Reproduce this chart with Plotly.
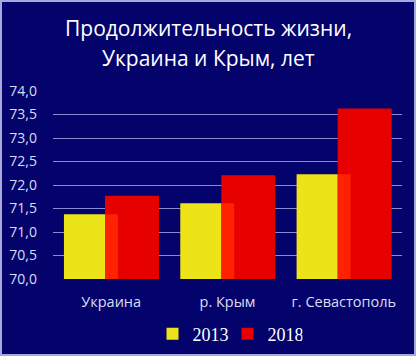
import plotly.graph_objects as go

categories = ["Украина", "р. Крым", "г. Севастополь"]
years = ["2013", "2018"]
values_2013 = [71.38, 71.61, 72.23]
values_2018 = [71.77, 72.21, 73.63]
y_ticks = [70.0, 70.5, 71.0, 71.5, 72.0, 72.5, 73.0, 73.5, 74.0]
title_lines = ["Продолжительность жизни,", "Украина и Крым, лет"]

BG = "#03036b"
YELLOW = "#ece318"
RED = "#e60000"
OVERLAP = "#ff2200"
TXT = "#dcdcf4"

W = 0.464
fig = go.Figure()
fig.add_trace(go.Bar(x=categories, y=values_2013, name=years[0], marker_color=YELLOW,
                     marker_line_width=0, width=W, offset=-0.406))
fig.add_trace(go.Bar(x=categories, y=values_2018, name=years[1], marker_color=RED,
                     marker_line_width=0, width=W, offset=-0.053))
# overlap region where the 2013 bar shows through the 2018 bar
fig.add_trace(go.Bar(x=categories, y=[min(a, b) for a, b in zip(values_2013, values_2018)],
                     marker_color=OVERLAP, marker_line_width=0, width=0.111, offset=-0.053,
                     showlegend=False, hoverinfo="skip"))

annotations = []
for i, line in enumerate(title_lines):
    annotations.append(dict(text=line, xref="paper", yref="paper", showarrow=False,
                            x=(208 - 53) / 349, xanchor="center",
                            y=(279 - (28 + 30 * i)) / 188, yanchor="middle",
                            font=dict(size=21, color="#ffffff",
                                      family="Open Sans, Noto Sans, sans-serif")))

fig.update_layout(
    width=416, height=356,
    margin=dict(l=53, r=14, t=91, b=77, autoexpand=False),
    paper_bgcolor=BG, plot_bgcolor=BG,
    barmode="overlay",
    separators=", ",
    font=dict(family="Open Sans, Noto Sans, sans-serif", color=TXT, size=13),
    xaxis=dict(showgrid=False, showline=False, ticks="", tickfont=dict(size=14.5, color=TXT),
               range=[-0.5, 2.5], ticklabelstandoff=12),
    yaxis=dict(range=[70, 74], tickvals=y_ticks, tickformat=".1f",
               showgrid=True, gridcolor="#8a8ad2", gridwidth=1, zeroline=False,
               tickfont=dict(size=14, color=TXT), ticklabelstandoff=15),
    legend=dict(orientation="h", x=0.5, xanchor="center", y=(279 - 334) / 188, yanchor="middle",
                font=dict(family="Liberation Serif, serif", size=18, color="#ffffff"),
                bgcolor="rgba(0,0,0,0)", itemwidth=30, entrywidth=30,
                traceorder="normal"),
    showlegend=True,
    annotations=annotations,
    shapes=[dict(type="rect", xref="paper", yref="paper",
                 x0=(1 - 53) / 349, x1=(415 - 53) / 349,
                 y0=(279 - 355) / 188, y1=(279 - 1) / 188,
                 line=dict(color="#a8a8dc", width=2), layer="below")],
)

fig.write_html("out.html", config={"displayModeBar": False},
               post_script="document.body.style.margin='0';document.body.style.overflow='hidden';")
